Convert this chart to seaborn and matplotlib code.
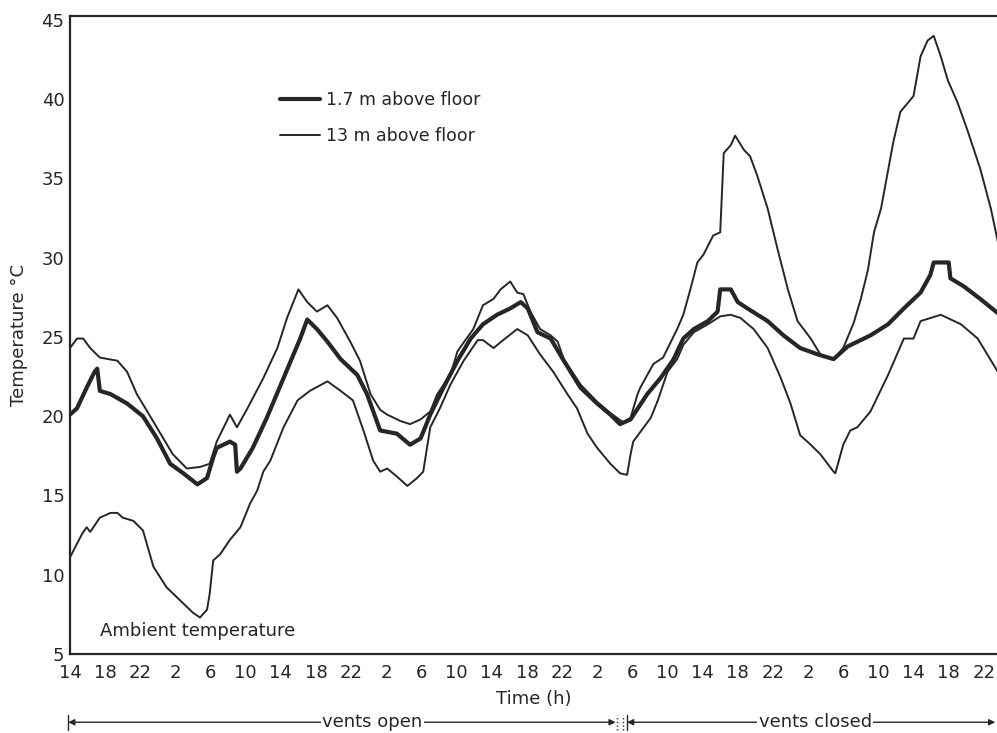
import numpy as np
import pandas as pd
import matplotlib
matplotlib.use("Agg")
import matplotlib.pyplot as plt
import seaborn as sns

# Hours elapsed since 14:00 on the first day, with temperatures in degC
hours_13m = [0.0, 0.8, 1.5, 2.3, 3.4, 5.4, 6.5, 7.6, 8.8, 10.3, 11.7, 13.3, 14.8, 15.9,
             16.7, 18.2, 19.0, 20.2, 22.0, 23.6, 24.7, 26.0, 27.0, 28.1, 29.3, 30.4,
             31.9, 33.0, 34.2, 35.3, 36.1, 37.6, 38.7, 39.9, 41.0, 41.8, 43.3, 44.1,
             45.9, 47.0, 48.2, 49.0, 50.1, 50.9, 51.6, 52.4, 53.5, 54.7, 55.5, 56.2,
             58.1, 60.0, 61.5, 63.0, 63.8, 64.6, 64.9, 66.4, 67.5, 69.1, 69.8, 70.6,
             71.4, 72.1, 73.2, 74.0, 74.4, 75.2, 75.7, 76.7, 77.4, 78.2, 79.4, 80.5,
             81.7, 82.8, 84.3, 85.4, 86.9, 88.0, 89.2, 90.0, 90.8, 91.5, 92.3, 93.7,
             94.5, 96.0, 96.8, 97.6, 98.3, 99.1, 99.9, 101.0, 102.1, 103.6, 104.8, 105.6]
temp_13m = [24.3, 24.9, 24.9, 24.3, 23.7, 23.5, 22.8, 21.4, 20.3, 18.9, 17.6, 16.7, 16.8, 17.0,
            18.4, 20.1, 19.3, 20.5, 22.4, 24.3, 26.2, 28.0, 27.2, 26.6, 27.0, 26.2,
            24.7, 23.5, 21.4, 20.4, 20.1, 19.7, 19.5, 19.8, 20.3, 21.4, 22.6, 24.1,
            25.5, 27.0, 27.4, 28.0, 28.5, 27.8, 27.7, 26.6, 25.5, 25.1, 24.7, 23.6,
            22.0, 20.9, 20.2, 19.6, 19.9, 21.4, 21.8, 23.3, 23.7, 25.5, 26.4, 28.0,
            29.7, 30.2, 31.4, 31.6, 36.6, 37.1, 37.7, 36.8, 36.4, 35.2, 33.1, 30.6,
            28.0, 26.0, 24.9, 23.9, 23.6, 24.3, 25.9, 27.4, 29.2, 31.6, 33.1, 37.3,
            39.2, 40.2, 42.7, 43.7, 44.0, 42.7, 41.2, 39.8, 38.1, 35.6, 33.1, 31.0]

hours_17m = [0.0, 0.8, 1.9, 2.8, 3.1, 3.4, 4.6, 6.5, 8.3, 9.9, 11.4, 12.9, 14.5, 15.6,
             16.3, 16.7, 18.2, 18.8, 19.0, 19.4, 20.8, 22.4, 24.3, 26.2, 27.0, 28.1,
             29.3, 30.8, 32.7, 33.8, 35.3, 37.2, 38.7, 39.9, 41.0, 42.5, 44.1, 45.6,
             47.0, 48.6, 50.1, 51.3, 52.1, 53.2, 54.7, 56.2, 58.1, 60.0, 61.5, 62.6,
             63.8, 65.7, 67.2, 68.7, 69.8, 71.0, 72.6, 73.7, 74.0, 75.2, 76.0, 77.1,
             79.4, 81.2, 83.1, 85.1, 86.9, 88.5, 91.1, 93.1, 94.9, 96.8, 97.9, 98.3,
             100.0, 100.2, 101.7, 103.6, 105.6]
temp_17m = [20.1, 20.5, 21.8, 22.8, 23.0, 21.6, 21.4, 20.8, 20.0, 18.6, 17.0, 16.4, 15.7, 16.1,
            17.4, 18.0, 18.4, 18.2, 16.5, 16.7, 18.0, 19.9, 22.4, 24.9, 26.1, 25.5,
            24.7, 23.6, 22.6, 21.4, 19.1, 18.9, 18.2, 18.6, 20.1, 21.8, 23.5, 24.9,
            25.8, 26.4, 26.8, 27.2, 26.8, 25.3, 24.9, 23.5, 21.8, 20.8, 20.1, 19.5,
            19.8, 21.4, 22.4, 23.6, 24.9, 25.5, 26.0, 26.6, 28.0, 28.0, 27.2, 26.8,
            26.0, 25.1, 24.3, 23.9, 23.6, 24.4, 25.1, 25.8, 26.8, 27.8, 28.9, 29.7,
            29.7, 28.7, 28.2, 27.4, 26.5]

hours_amb = [0.0, 1.4, 1.9, 2.3, 3.4, 4.6, 5.4, 6.0, 7.2, 8.3, 9.5, 11.0, 12.5, 14.0,
             14.8, 15.6, 15.9, 16.3, 17.1, 18.2, 19.4, 20.5, 21.3, 22.0, 22.8, 24.3,
             25.9, 27.3, 29.3, 30.8, 32.2, 33.4, 34.5, 35.3, 36.1, 37.2, 38.4, 39.5,
             40.2, 41.0, 42.1, 43.3, 44.8, 46.4, 47.0, 48.2, 49.3, 50.9, 52.1, 53.5,
             55.0, 56.6, 57.7, 58.9, 60.0, 61.5, 62.6, 63.4, 63.8, 64.1, 65.3, 66.1,
             66.9, 68.0, 69.1, 69.8, 71.0, 72.6, 74.0, 75.2, 76.3, 77.8, 79.4, 80.9,
             82.0, 83.1, 84.3, 85.4, 86.9, 87.1, 88.0, 88.8, 89.6, 91.1, 93.1, 94.9,
             96.0, 96.8, 99.1, 101.4, 103.3, 105.6]
temp_amb = [11.1, 12.6, 13.0, 12.7, 13.6, 13.9, 13.9, 13.6, 13.4, 12.8, 10.5, 9.2, 8.4, 7.6,
            7.3, 7.8, 8.8, 10.9, 11.3, 12.2, 13.0, 14.5, 15.3, 16.5, 17.2, 19.3,
            21.0, 21.6, 22.2, 21.6, 21.0, 19.1, 17.2, 16.5, 16.7, 16.2, 15.6, 16.1,
            16.5, 19.3, 20.5, 22.0, 23.5, 24.8, 24.8, 24.3, 24.8, 25.5, 25.1, 23.9,
            22.8, 21.4, 20.5, 18.9, 18.0, 17.0, 16.4, 16.3, 17.6, 18.4, 19.3, 19.9,
            21.0, 22.8, 23.6, 24.5, 25.3, 25.8, 26.3, 26.4, 26.2, 25.5, 24.3, 22.4,
            20.8, 18.8, 18.2, 17.6, 16.5, 16.4, 18.2, 19.1, 19.3, 20.3, 22.6, 24.9,
            24.9, 26.0, 26.4, 25.8, 24.9, 22.8]

# Clock-hour tick marks every 4 h, starting at 14:00
tick_hours = list(range(0, 105, 4))
tick_labels = [str((14 + h) % 24) for h in tick_hours]
y_ticks = [5, 10, 15, 20, 25, 30, 35, 40, 45]

# Time at which the vents were closed
vents_closed_at = 62.6

sns.set_theme(style="white")
plt.rcParams["font.family"] = ["DejaVu Sans"]

ink = "#262626"
fig = plt.figure(figsize=(9.97, 7.33), dpi=100)
ax = fig.add_axes([0.0702, 0.1078, 0.9298, 0.8704])

df_17 = pd.DataFrame({"hour": hours_17m, "temp": temp_17m})
df_13 = pd.DataFrame({"hour": hours_13m, "temp": temp_13m})
df_amb = pd.DataFrame({"hour": hours_amb, "temp": temp_amb})

sns.lineplot(data=df_17, x="hour", y="temp", ax=ax, color=ink, linewidth=3.0,
             estimator=None, sort=False, label="1.7 m above floor")
sns.lineplot(data=df_13, x="hour", y="temp", ax=ax, color=ink, linewidth=1.4,
             estimator=None, sort=False, label="13 m above floor")
sns.lineplot(data=df_amb, x="hour", y="temp", ax=ax, color=ink, linewidth=1.4,
             estimator=None, sort=False)

ax.set_xlim(0, 105.5)
ax.set_ylim(5, 45.25)
ax.set_xticks(tick_hours)
ax.set_xticklabels(tick_labels)
ax.set_yticks(y_ticks)
ax.tick_params(axis="both", labelsize=13, colors=ink, direction="in")
ax.tick_params(axis="y", length=6, width=1.3, pad=4)
ax.tick_params(axis="x", length=2.5, width=1.0, pad=7)

for side in ("left", "bottom", "top"):
    ax.spines[side].set_color(ink)
    ax.spines[side].set_linewidth(1.6)
ax.spines["right"].set_visible(False)

ax.set_xlabel("Time (h)", fontsize=13, color=ink, labelpad=6)
ax.set_ylabel("Temperature \u00b0C", fontsize=13, color=ink, labelpad=10)

leg = ax.legend(loc="center left", bbox_to_anchor=(0.2265, 0.84), frameon=False,
                fontsize=12.5, handlelength=2.3, handletextpad=0.35,
                labelspacing=1.0, borderpad=0, borderaxespad=0)
for t in leg.get_texts():
    t.set_color(ink)

ax.text(3.4, 6.45, "Ambient temperature", fontsize=13, color=ink,
        ha="left", va="center")

# Ventilation regime annotation below the time axis
yv = -0.107
trans = ax.get_xaxis_transform()
arrow_kw = dict(arrowstyle="<|-|>", color=ink, lw=1.0, mutation_scale=9,
                shrinkA=0, shrinkB=0)
ax.annotate("", xy=(-0.2, yv), xytext=(vents_closed_at - 0.5, yv),
            xycoords=trans, textcoords=trans, arrowprops=arrow_kw,
            annotation_clip=False)
ax.annotate("", xy=(vents_closed_at + 0.8, yv), xytext=(105.3, yv),
            xycoords=trans, textcoords=trans, arrowprops=arrow_kw,
            annotation_clip=False)
for xb, ls in ((-0.2, "-"), (vents_closed_at - 0.3, ":"),
               (vents_closed_at + 0.3, ":"), (vents_closed_at + 0.8, "-")):
    ax.plot([xb, xb], [yv - 0.012, yv + 0.012], transform=trans, color=ink,
            lw=1.0, ls=ls, clip_on=False)
ax.text(34.4, yv, "vents open", transform=trans, fontsize=13, color=ink,
        ha="center", va="center",
        bbox=dict(facecolor="white", edgecolor="none", pad=1.0))
ax.text(84.8, yv, "vents closed", transform=trans, fontsize=13, color=ink,
        ha="center", va="center",
        bbox=dict(facecolor="white", edgecolor="none", pad=1.0))

fig.savefig("out.png", dpi=100, facecolor="white")
